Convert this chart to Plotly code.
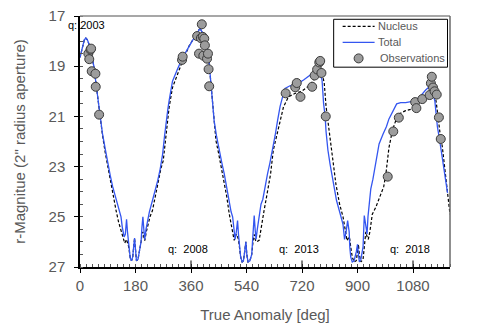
import plotly.graph_objects as go

# ---------------- data ----------------
total_deg = [0, 8, 14, 19, 24, 30, 38, 45, 52, 58, 63, 73, 82, 90, 98, 106, 113, 119, 127, 133,
             137, 143, 147, 151, 154, 158, 163, 167, 171, 174, 177, 180, 183, 188, 193, 198, 201, 204,
             207, 210, 214, 218, 225, 235, 243, 252, 260, 268, 274, 279, 285, 290, 300, 316, 333, 345,
             354, 366, 376, 382, 387, 392, 397, 405, 410, 414, 419, 424, 430, 435, 443, 451, 460, 468,
             476, 484, 490, 495, 499, 503, 507, 511, 514, 517, 521, 526, 530, 534, 538, 541, 545, 551,
             557, 561, 565, 568, 571, 575, 580, 587, 593, 600, 608, 616, 625, 633, 641, 649, 657, 665,
             681, 698, 725, 752, 768, 779, 785, 790, 795, 798, 804, 811, 818, 825, 832, 842, 853,
             858, 863, 868, 873, 875, 878, 883, 889, 896, 900, 903, 906, 911, 918, 922, 927, 931, 934,
             938, 943, 950, 961, 970, 983, 994, 1002, 1010, 1018, 1027, 1040, 1056, 1078, 1091, 1100,
             1110, 1121, 1130, 1139, 1145, 1151, 1155, 1159, 1167, 1175, 1183, 1192, 1200]
total_mag = [18.65, 18.2, 17.95, 17.88, 17.95, 18.15, 18.55, 19.0, 19.7, 20.3, 20.9, 21.7, 22.3, 22.9,
             23.35, 23.8, 24.1, 24.35, 24.7, 25.0, 25.4, 25.8, 25.7, 25.1, 25.6, 26.2, 26.65, 26.75,
             26.6, 26.2, 25.85, 26.3, 26.75, 26.7, 26.4, 26.0, 25.4, 25.0, 25.5, 25.9, 25.5, 25.2, 24.8,
             24.35, 24.0, 23.56, 23.1, 22.5, 21.8, 21.2, 20.7, 20.3, 19.6, 19.12, 18.65, 18.4, 18.19,
             17.95, 17.79, 17.62, 17.53, 17.55, 17.66, 17.95, 18.2, 18.4, 18.9, 19.58, 20.4, 21.17, 21.8,
             22.37, 22.85, 23.3, 23.9, 24.5, 24.8, 25.0, 25.5, 25.9, 25.6, 25.15, 25.7, 26.2, 26.6, 26.8,
             26.75, 26.4, 26.0, 26.5, 26.8, 26.75, 26.5, 25.7, 24.95, 25.5, 25.9, 25.5, 25.0, 24.5, 24.3,
             23.8, 23.3, 22.85, 22.34, 21.75, 21.15, 20.6, 20.22, 19.89, 19.78, 19.75, 19.55, 19.29,
             19.16, 19.3, 19.55, 20.48, 21.0, 21.6, 22.34, 22.9, 23.4, 23.95, 24.35, 24.8, 25.3,
             25.9, 25.6, 25.15, 25.6, 26.2, 26.6, 26.8, 26.75, 26.4, 26.1, 26.5, 26.8, 26.7, 26.2, 24.95,
             25.4, 25.68, 25.0, 24.35, 23.9, 23.5, 22.7, 22.1, 21.7, 21.4, 21.1, 20.9, 20.7, 20.5, 20.45,
             20.45, 20.4, 20.35, 20.25, 20.1, 19.95, 19.85, 19.9, 20.1, 20.4, 20.9, 21.4, 22.0, 22.7,
             23.4, 24.05]

nucleus_deg = [0, 8, 14, 19, 24, 30, 38, 45, 52, 58, 63, 73, 82, 90, 98, 106, 113, 117, 125, 133,
               141, 145, 151, 154, 158, 163, 167, 171, 174, 177, 180, 183, 188, 193, 198, 201, 204,
               207, 210, 215, 220, 227, 235, 245, 255, 262, 270, 276, 281, 289, 300, 316, 333, 345,
               354, 366, 376, 382, 387, 392, 397, 405, 410, 414, 419, 424, 430, 436, 441, 450, 458, 468,
               476, 484, 492, 500, 503, 507, 511, 514, 517, 521, 526, 530, 534, 538, 541, 545, 551, 557,
               561, 565, 568, 572, 581, 590, 597, 608, 618, 627, 636, 644, 652, 660, 676, 698, 719, 746,
               768, 781, 787, 792, 798, 808, 818, 830, 842, 853, 860, 866, 873, 875, 878, 883, 889,
               896, 900, 903, 906, 911, 918, 922, 927, 931, 935, 940, 948, 960, 972, 985, 992, 1002,
               1013, 1024, 1035, 1056, 1078, 1094, 1110, 1126, 1137, 1145, 1151, 1156, 1160, 1168,
               1175, 1183, 1192, 1200]
nucleus_mag = [18.65, 18.2, 17.95, 17.88, 17.95, 18.15, 18.55, 19.0, 19.7, 20.3, 20.9, 21.75, 22.45,
               23.0, 23.6, 24.1, 24.5, 24.75, 25.2, 25.55, 25.95, 26.05, 25.9, 26.0, 26.2, 26.65, 26.75,
               26.6, 26.2, 25.85, 26.3, 26.75, 26.7, 26.4, 26.0, 25.7, 25.6, 25.8, 25.95, 25.6, 25.3,
               25.0, 24.75, 24.1, 23.5, 23.1, 22.76, 22.0, 21.4, 20.64, 19.85, 19.3, 18.78, 18.45, 18.19,
               17.95, 17.79, 17.62, 17.53, 17.55, 17.66, 17.95, 18.2, 18.4, 18.9, 19.58, 20.45, 21.35,
               21.97, 22.5, 23.0, 23.55, 24.2, 24.88, 25.4, 25.94, 25.8, 25.7, 25.8, 25.9, 26.2, 26.6,
               26.8, 26.75, 26.4, 26.0, 26.5, 26.8, 26.75, 26.5, 26.0, 25.7, 25.9, 26.0, 25.94, 25.2,
               24.75, 24.0, 23.3, 22.34, 21.85, 21.41, 21.0, 20.62, 20.22, 20.08, 20.0, 19.75,
               19.4, 19.3, 19.4, 19.65, 20.6, 21.6, 22.7, 23.7, 24.5, 25.0, 25.5, 25.95, 25.8, 25.9, 26.2, 26.6,
               26.8, 26.75, 26.4, 26.1, 26.5, 26.8, 26.7, 26.2, 25.6, 25.8, 25.9, 25.6, 24.9, 24.6, 24.2,
               23.8, 23.3, 22.25, 21.57, 21.17, 20.9, 20.77, 20.7, 20.57, 20.35, 20.1, 19.9, 19.95, 20.1,
               20.5, 21.0, 21.7, 22.2, 23.0, 23.9, 24.9]

obs_deg = [27, 30, 34, 36, 38, 50, 51, 62,
           331, 333, 380, 386, 392, 395, 398, 400, 403, 405, 412, 415, 417, 419,
           667, 698, 703, 715, 753, 761, 769, 776, 779, 783, 797,
           998, 1016, 1034, 1087, 1091, 1110, 1134, 1138, 1141, 1145, 1150, 1157, 1164, 1170]
obs_mag = [18.5, 18.72, 18.34, 18.3, 19.2, 19.3, 19.82, 20.93,
           18.75, 18.62, 17.8, 18.5, 17.88, 17.33, 17.83, 18.58, 17.9, 18.17, 18.7, 18.5, 19.12, 19.8,
           20.08, 19.84, 19.67, 20.22, 19.82, 19.37, 19.13, 18.85, 18.79, 19.27, 21.0,
           23.4, 21.6, 21.05, 20.43, 20.67, 20.31, 20.15, 19.68, 19.42, 19.85, 20.0, 20.13, 21.04, 21.9]

perihelion_deg = [0, 360, 720, 1080]
perihelion_labels = ["q: 2003", "q:  2008", "q:  2013", "q:  2018"]

x_ticks = [0, 180, 360, 540, 720, 900, 1080]
y_ticks = [17, 19, 21, 23, 25, 27]

legend_names = ["Nucleus", "Total", "Observations"]

# ---------------- figure ----------------
FONT = "Liberation Sans"
GREY = "#595959"
BLUE = "#3456f0"
OBS_FILL = "#9c9c9c"
OBS_EDGE = "#3a3a3a"

# plot area size in px (for legend placement in paper units)
PW, PH = 370.5, 251.6
def px(dx):
    return dx / PW
def py(dy):
    return dy / PH

fig = go.Figure()
fig.add_trace(go.Scatter(x=nucleus_deg, y=nucleus_mag, mode="lines", name=legend_names[0],
                         line=dict(color="black", width=1.2, dash="3px,2px"), showlegend=False))
fig.add_trace(go.Scatter(x=total_deg, y=total_mag, mode="lines", name=legend_names[1],
                         line=dict(color=BLUE, width=1.3), showlegend=False))
fig.add_trace(go.Scatter(x=obs_deg, y=obs_mag, mode="markers", name=legend_names[2],
                         marker=dict(size=9, color=OBS_FILL, line=dict(color=OBS_EDGE, width=1)),
                         showlegend=False))

# perihelion marker ticks (long inside ticks)
for q in perihelion_deg[1:]:
    fig.add_shape(type="line", xref="x", yref="paper", x0=q, x1=q, y0=0, y1=0.026,
                  line=dict(color="black", width=1))

# top / right grey frame
fig.add_shape(type="line", xref="paper", yref="paper", x0=0, x1=1, y0=1, y1=1,
              line=dict(color="#8a8a8a", width=1.5))
fig.add_shape(type="line", xref="paper", yref="paper", x0=1, x1=1, y0=0, y1=1,
              line=dict(color="#6a6a6a", width=1.5))

# ----- legend box (drawn in paper units) -----
L_left, L_right = px(254), px(368)      # px from plot-area left
L_top, L_bot = 1 - py(3.3), 1 - py(51.3)
fig.add_shape(type="rect", xref="paper", yref="paper", x0=L_left, x1=L_right, y0=L_bot, y1=L_top,
              line=dict(color="black", width=1), fillcolor="white", layer="above")
row_y = [1 - py(10.5), 1 - py(26.5), 1 - py(42.5)]
sx0, sx1 = px(263), px(295)
fig.add_shape(type="line", xref="paper", yref="paper", x0=sx0, x1=sx1, y0=row_y[0], y1=row_y[0],
              line=dict(color="black", width=1.2, dash="3px,2px"), layer="above")
fig.add_shape(type="line", xref="paper", yref="paper", x0=sx0, x1=sx1, y0=row_y[1], y1=row_y[1],
              line=dict(color=BLUE, width=1.3), layer="above")
fig.add_shape(type="circle", xref="paper", yref="paper", xsizemode="pixel", ysizemode="pixel",
              xanchor=px(279), yanchor=row_y[2], x0=-4.5, x1=4.5, y0=-4.5, y1=4.5,
              fillcolor=OBS_FILL, line=dict(color=OBS_EDGE, width=1), layer="above")
for name, yy, xs in zip(legend_names, row_y, [px(296), px(296), px(298)]):
    fig.add_annotation(x=xs, y=yy, xref="paper", yref="paper", text=name, showarrow=False,
                       xanchor="left", yanchor="middle",
                       font=dict(family=FONT, size=11, color=GREY))

# q labels
fig.add_annotation(x=perihelion_deg[0], y=17.37, xref="x", yref="y", text=perihelion_labels[0],
                   showarrow=False, xanchor="left", xshift=-14,
                   font=dict(family=FONT, size=11, color="black"))
for q, lab in zip(perihelion_deg[1:], perihelion_labels[1:]):
    fig.add_annotation(x=q, y=26.27, xref="x", yref="y", text=lab, showarrow=False,
                       xanchor="center", xshift=-3,
                       font=dict(family=FONT, size=11, color="black"))

# page body has an 8px offset, so margins are shifted accordingly
fig.update_layout(
    width=480, height=327,
    margin=dict(l=72, r=37.5, t=8, b=67.7, autoexpand=False),
    paper_bgcolor="white", plot_bgcolor="white",
    font=dict(family=FONT, color=GREY),
    showlegend=False,
)
fig.update_xaxes(range=[0, 1200], tickvals=x_ticks, ticks="outside", ticklen=4,
                 tickcolor="black", showline=True, linecolor="black", linewidth=1.5,
                 showgrid=False, zeroline=False, automargin=False, ticklabeloverflow="allow",
                 tickfont=dict(family=FONT, size=15, color=GREY),
                 minor=dict(dtick=20, tick0=0, ticks="inside", ticklen=3, tickcolor="#555", showgrid=False),
                 title=dict(text="True Anomaly [deg]", font=dict(family=FONT, size=15, color=GREY),
                            standoff=17))
fig.update_yaxes(range=[27, 17], tickvals=y_ticks, ticks="outside", ticklen=4,
                 tickcolor="black", showline=True, linecolor="black", linewidth=1.5,
                 showgrid=False, zeroline=False, automargin=False, ticklabelstandoff=6,
                 ticklabeloverflow="allow",
                 tickfont=dict(family=FONT, size=15, color=GREY),
                 minor=dict(dtick=0.5, tick0=17, ticks="inside", ticklen=3, tickcolor="#555", showgrid=False),
                 title=dict(text='r-Magnitue (2" radius aperture)',
                            font=dict(family=FONT, size=15, color=GREY), standoff=19))

fig.write_html("out.html")
